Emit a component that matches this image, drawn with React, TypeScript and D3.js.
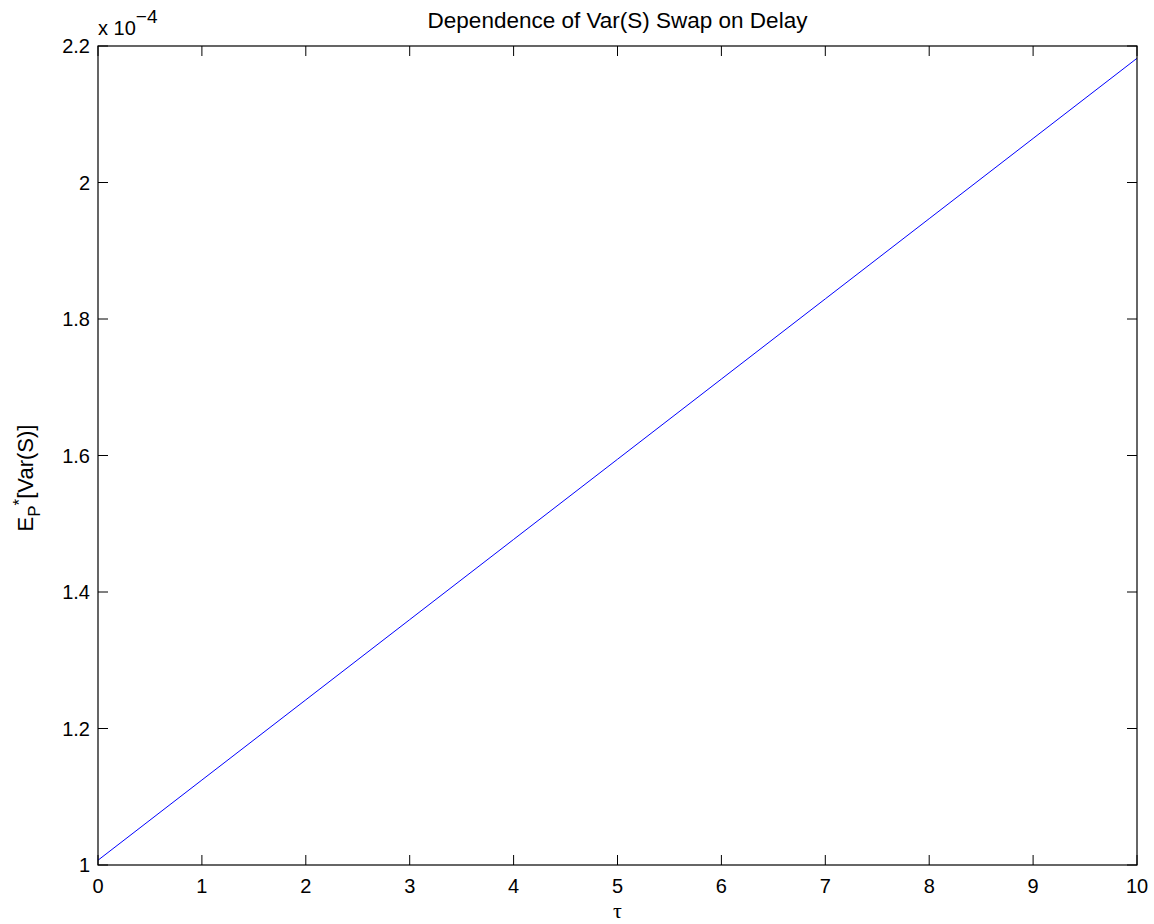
import React from "react";
import * as d3 from "d3";

const tau = [0, 1, 2, 3, 4, 5, 6, 7, 8, 9, 10];
const varSwap = [1.007, 1.1245, 1.242, 1.3595, 1.477, 1.5945, 1.712, 1.8295, 1.947, 2.0645, 2.182];
const xTicks = [0, 1, 2, 3, 4, 5, 6, 7, 8, 9, 10];
const yTicks = [1, 1.2, 1.4, 1.6, 1.8, 2, 2.2];
const titleText = "Dependence of Var(S) Swap on Delay";

const W = 1154;
const H = 924;
const M = { left: 98, right: 1137, top: 46, bottom: 865 };
const FONT = "Liberation Sans, Arial, Helvetica, sans-serif";

export default function App() {
  const x = d3.scaleLinear().domain([0, 10]).range([M.left, M.right]);
  const y = d3.scaleLinear().domain([1, 2.2]).range([M.bottom, M.top]);
  const line = d3
    .line<number>()
    .x((_, i) => x(tau[i]))
    .y((d) => y(d));
  const tickLen = 10;
  const fmt = (v: number) => String(+v.toFixed(1));
  return (
    <svg
      width={W}
      height={H}
      style={{ position: "absolute", left: 0, top: 0, background: "#fff" }}
      fontFamily={FONT}
    >
      <rect x={0} y={0} width={W} height={H} fill="#fff" />
      <path d={line(varSwap) || ""} fill="none" stroke="#0000ff" strokeWidth={1} />
      {xTicks.map((t) => (
        <g key={"x" + t}>
          <line x1={x(t)} x2={x(t)} y1={M.bottom} y2={M.bottom - tickLen} stroke="#000" />
          <line x1={x(t)} x2={x(t)} y1={M.top} y2={M.top + tickLen} stroke="#000" />
          <text x={x(t)} y={893} fontSize={20} textAnchor="middle" fill="#000">
            {fmt(t)}
          </text>
        </g>
      ))}
      {yTicks.map((t) => (
        <g key={"y" + t}>
          <line x1={M.left} x2={M.left + tickLen} y1={y(t)} y2={y(t)} stroke="#000" />
          <line x1={M.right} x2={M.right - tickLen} y1={y(t)} y2={y(t)} stroke="#000" />
          <text x={90} y={y(t) + 7} fontSize={20} textAnchor="end" fill="#000">
            {fmt(t)}
          </text>
        </g>
      ))}
      <rect
        x={M.left}
        y={M.top}
        width={M.right - M.left}
        height={M.bottom - M.top}
        fill="none"
        stroke="#000"
        strokeWidth={1.2}
      />
      <text x={98} y={35} fontSize={20} fill="#000">
        x 10
        <tspan dy={-12} fontSize={19}>
          −4
        </tspan>
      </text>
      <text x={(M.left + M.right) / 2} y={28} fontSize={22.5} textAnchor="middle" fill="#000">
        {titleText}
      </text>
      <text
        x={(M.left + M.right) / 2}
        y={918}
        fontSize={22}
        textAnchor="middle"
        fontFamily="Liberation Serif, Times New Roman, serif"
        fill="#000"
      >
        τ
      </text>
      <text
        transform={`translate(33, 478) rotate(-90)`}
        fontSize={22}
        textAnchor="middle"
        fill="#000"
      >
        E
        <tspan dy={7} fontSize={17}>
          P
        </tspan>
        <tspan dy={-15} fontSize={17}>
          *
        </tspan>
        <tspan dy={8}>[Var(S)]</tspan>
      </text>
    </svg>
  );
}
